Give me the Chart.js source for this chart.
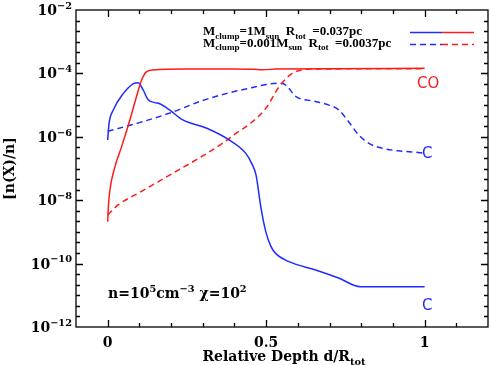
<!DOCTYPE html>
<html>
<head>
<meta charset="utf-8">
<script src="https://cdn.jsdelivr.net/npm/chart.js@4/dist/chart.umd.min.js"></script>
<style>
  html, body { margin: 0; padding: 0; background: #fff; }
</style>
</head>
<body>
<canvas id="chart" width="491" height="365"></canvas>
<script>
// depth (d/R_tot) and abundance n(X)/n

// M_clump = 1 Msun, CO (red solid)
const coBigDepth = [0, 0.002, 0.007, 0.023, 0.044, 0.07, 0.091, 0.107, 0.122, 0.143, 0.25, 0.4, 0.46, 0.49, 0.53, 0.7, 1.0];
const coBigAbund = [2.1e-9, 6.0e-9, 2.1e-8, 1.15e-7, 4.9e-7, 3.4e-6, 1.86e-5, 6.2e-5, 1.12e-4, 1.29e-4, 1.38e-4, 1.38e-4, 1.34e-4, 1.3e-4, 1.38e-4, 1.4e-4, 1.45e-4];

// M_clump = 1 Msun, C (blue solid)
const cBigDepth = [0, 0.004, 0.018, 0.049, 0.08, 0.096, 0.112, 0.127, 0.148, 0.164, 0.195, 0.237, 0.311, 0.384, 0.436, 0.455, 0.468, 0.483, 0.499, 0.515, 0.53, 0.572, 0.656, 0.729, 0.797, 1.0];
const cBigAbund = [7.9e-7, 2.5e-6, 7.1e-6, 2.3e-5, 4.7e-5, 5.1e-5, 3.0e-5, 1.5e-5, 1.2e-5, 1.1e-5, 7.1e-6, 3.4e-6, 1.9e-6, 7.9e-7, 3.0e-7, 1.4e-7, 6.3e-8, 6.3e-9, 1.0e-9, 3.5e-10, 2.1e-10, 1.15e-10, 6.3e-11, 3.5e-11, 1.86e-11, 1.86e-11];

// M_clump = 0.001 Msun, CO (red dashed)
const coSmallDepth = [0, 0.033, 0.096, 0.159, 0.206, 0.3, 0.363, 0.41, 0.447, 0.499, 0.541, 0.582, 0.614, 0.656, 1.0];
const coSmallAbund = [3.4e-9, 7.1e-9, 1.66e-8, 3.8e-8, 7.1e-8, 2.5e-7, 6.3e-7, 1.4e-6, 2.5e-6, 7.9e-6, 3.8e-5, 1.0e-4, 1.3e-4, 1.38e-4, 1.4e-4];

// M_clump = 0.001 Msun, C (blue dashed)
const cSmallDepth = [0, 0.1, 0.2, 0.3, 0.4, 0.447, 0.5, 0.541, 0.562, 0.593, 0.656, 0.698, 0.729, 0.76, 0.792, 0.823, 0.865, 0.917, 0.98, 1.0];
const cSmallAbund = [1.5e-6, 2.8e-6, 5.8e-6, 1.4e-5, 2.7e-5, 3.4e-5, 4.5e-5, 4.9e-5, 4.3e-5, 1.9e-5, 1.3e-5, 1.0e-5, 7.1e-6, 3.0e-6, 1.15e-6, 6.3e-7, 4.4e-7, 3.6e-7, 3.2e-7, 3.0e-7];

const yTickExps = [-2, -4, -6, -8, -10, -12];
const xTickVals = [0, 0.5, 1];
const xTickLabels = ['0', '0.5', '1'];

const RED = '#ff1a1a';
const BLUE = '#1f2cff';
const SERIF = '"DejaVu Serif", serif';
const NARROW = '"Liberation Serif", serif';

function pts(xs, ys) {
  return xs.map((x, i) => ({ x: x, y: ys[i] }));
}

// text with sub/superscripts: parts = [[text, mode], ...], mode '' | 'sub' | 'sup'
function richWidth(ctx, parts, size, fam) {
  let w = 0;
  parts.forEach(([t, m]) => {
    const s = m ? size * 0.7 : size;
    ctx.font = 'bold ' + s + 'px ' + fam;
    w += ctx.measureText(t).width;
  });
  return w;
}
function drawRich(ctx, parts, x, y, size, align, fam) {
  fam = fam || SERIF;
  const w = richWidth(ctx, parts, size, fam);
  let cx = x;
  if (align === 'right') cx = x - w;
  if (align === 'center') cx = x - w / 2;
  ctx.fillStyle = '#000';
  ctx.textBaseline = 'alphabetic';
  ctx.textAlign = 'left';
  parts.forEach(([t, m]) => {
    const s = m ? size * 0.7 : size;
    ctx.font = 'bold ' + s + 'px ' + fam;
    let dy = 0;
    if (m === 'sub') dy = size * 0.3;
    if (m === 'sup') dy = -size * 0.45;
    ctx.fillText(t, cx, y + dy);
    cx += ctx.measureText(t).width;
  });
}

const decor = {
  id: 'decor',
  afterDraw(chart) {
    const ctx = chart.ctx;
    const a = chart.chartArea;
    const xs = chart.scales.x, ys = chart.scales.y;
    ctx.save();
    ctx.strokeStyle = '#000';
    ctx.lineWidth = 1.3;
    ctx.strokeRect(a.left, a.top, a.right - a.left, a.bottom - a.top);

    // y ticks: major each labelled decade, minor every third of a decade
    ctx.beginPath();
    for (let k = 1; k < 30; k++) {
      const v = -12 + k / 3;
      const p = Math.round(ys.getPixelForValue(Math.pow(10, v))) + 0.5;
      const len = (k % 6 === 0) ? 7 : 4;
      ctx.moveTo(a.left, p); ctx.lineTo(a.left + len, p);
      ctx.moveTo(a.right, p); ctx.lineTo(a.right - len, p);
    }
    // x ticks
    for (let k = 1; k <= 12; k++) {
      const v = -0.1 + k * 0.1;
      const p = Math.round(xs.getPixelForValue(v)) + 0.5;
      const major = xTickVals.some(t => Math.abs(t - v) < 1e-6);
      const len = major ? 7 : 4;
      ctx.moveTo(p, a.bottom); ctx.lineTo(p, a.bottom - len);
      ctx.moveTo(p, a.top); ctx.lineTo(p, a.top + len);
    }
    ctx.stroke();

    // y tick labels
    yTickExps.forEach(e => {
      const p = ys.getPixelForValue(Math.pow(10, e));
      drawRich(ctx, [['10', ''], [String(e).replace('-', '\u2212'), 'sup']], a.left - 4, p + 5, 14, 'right');
    });
    // x tick labels
    xTickVals.forEach((v, i) => {
      drawRich(ctx, [[xTickLabels[i], '']], xs.getPixelForValue(v), a.bottom + 20, 14, 'center');
    });

    // axis titles
    drawRich(ctx, [['Relative Depth d/R', ''], ['tot', 'sub']], (a.left + a.right) / 2 + 2, 361, 14, 'center');
    ctx.save();
    ctx.translate(14, (a.top + a.bottom) / 2);
    ctx.rotate(-Math.PI / 2);
    drawRich(ctx, [['[n(X)/n]', '']], 0, 0, 14, 'center');
    ctx.restore();

    // legend
    drawRich(ctx, [['M', ''], ['clump', 'sub'], ['=1M', ''], ['sun', 'sub'], ['  R', ''], ['tot', 'sub'], ['  =0.037pc', '']], 203, 35, 13, 'left', NARROW);
    drawRich(ctx, [['M', ''], ['clump', 'sub'], ['=0.001M', ''], ['sun', 'sub'], ['  R', ''], ['tot', 'sub'], ['  =0.0037pc', '']], 203, 46.5, 13, 'left', NARROW);
    ctx.lineWidth = 1.5;
    ctx.setLineDash([]);
    ctx.strokeStyle = BLUE;
    ctx.beginPath(); ctx.moveTo(410, 32.5); ctx.lineTo(442, 32.5); ctx.stroke();
    ctx.strokeStyle = RED;
    ctx.beginPath(); ctx.moveTo(442, 32.5); ctx.lineTo(474, 32.5); ctx.stroke();
    ctx.setLineDash([6, 4]);
    ctx.strokeStyle = BLUE;
    ctx.beginPath(); ctx.moveTo(410, 44.5); ctx.lineTo(442, 44.5); ctx.stroke();
    ctx.strokeStyle = RED;
    ctx.beginPath(); ctx.moveTo(442, 44.5); ctx.lineTo(474, 44.5); ctx.stroke();
    ctx.setLineDash([]);

    // annotations
    drawRich(ctx, [['n=10', ''], ['5', 'sup'], ['cm', ''], ['\u22123', 'sup'], [' \u03c7=10', ''], ['2', 'sup']], 108, 298, 14, 'left');
    ctx.font = '15px "DejaVu Sans", sans-serif';
    ctx.textAlign = 'left';
    ctx.fillStyle = RED;
    ctx.fillText('CO', 417, 88);
    ctx.fillStyle = BLUE;
    ctx.fillText('C', 422, 158);
    ctx.fillText('C', 422, 310);
    ctx.restore();
  }
};

const lineDs = (label, data, color, dash) => ({
  label: label,
  data: data,
  borderColor: color,
  borderWidth: 1.5,
  borderDash: dash,
  pointRadius: 0,
  fill: false,
  cubicInterpolationMode: 'monotone'
});

new Chart(document.getElementById('chart'), {
  type: 'line',
  data: {
    datasets: [
      lineDs('CO 1 Msun', pts(coBigDepth, coBigAbund), RED, []),
      lineDs('C 1 Msun', pts(cBigDepth, cBigAbund), BLUE, []),
      lineDs('CO 0.001 Msun', pts(coSmallDepth, coSmallAbund), RED, [6, 4]),
      lineDs('C 0.001 Msun', pts(cSmallDepth, cSmallAbund), BLUE, [6, 4])
    ]
  },
  options: {
    responsive: false,
    animation: false,
    devicePixelRatio: 1,
    layout: { padding: { left: 76, right: 3, top: 10, bottom: 38 } },
    plugins: { legend: { display: false }, tooltip: { enabled: false } },
    scales: {
      x: { type: 'linear', min: -0.1, max: 1.2, display: false },
      y: { type: 'logarithmic', min: 1e-12, max: 1e-2, display: false }
    }
  },
  plugins: [decor]
});
</script>
</body>
</html>
